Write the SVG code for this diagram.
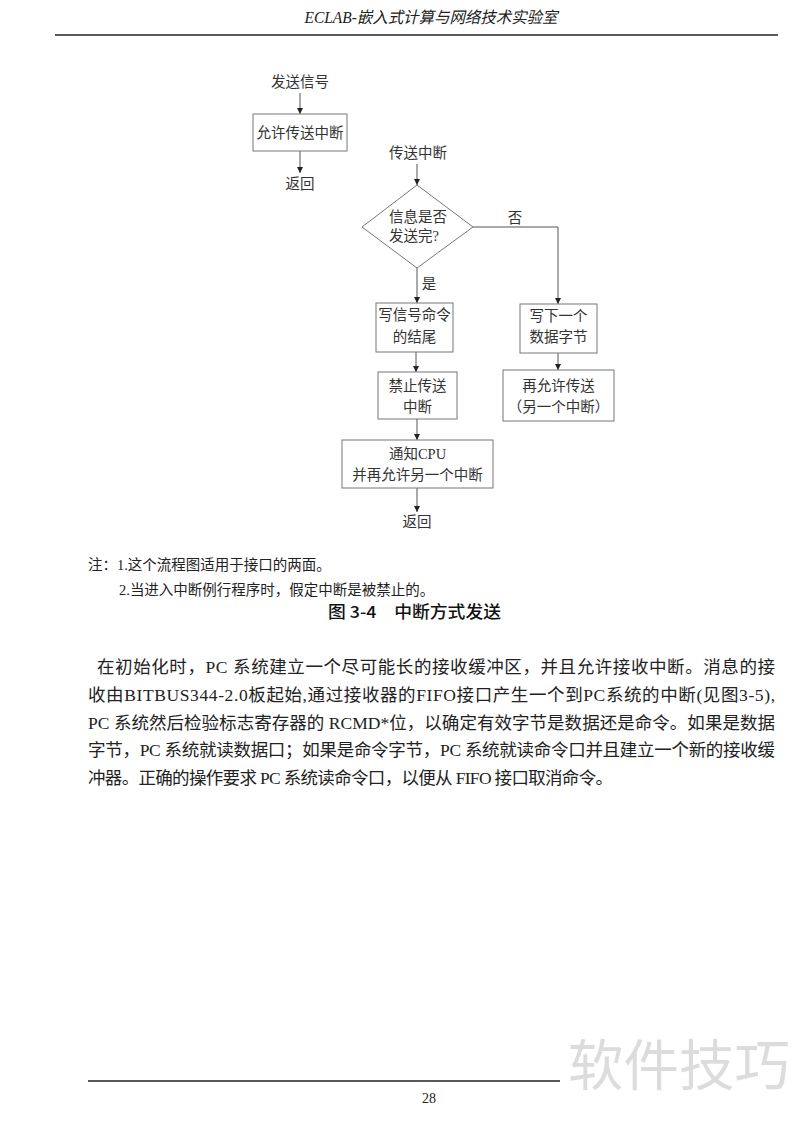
<svg xmlns="http://www.w3.org/2000/svg" width="800" height="1130" viewBox="0 0 800 1130">
<style>
.t{font-family:"Liberation Serif","Noto Sans CJK SC",serif;font-size:14.5px;fill:#333}
.c{text-anchor:middle}
.box{fill:#fff;stroke:#777;stroke-width:1}
.ln{fill:none;stroke:#555;stroke-width:1}
.p{font-family:"Liberation Serif","Noto Sans CJK SC",serif;font-size:17.5px;fill:#222}
.n{font-family:"Liberation Serif","Noto Sans CJK SC",serif;font-size:14.5px;fill:#222}
</style>
<defs>
<marker id="ar" viewBox="0 0 8 8" refX="8" refY="4" markerWidth="6" markerHeight="6" orient="auto" markerUnits="userSpaceOnUse">
<path d="M0,0 L8,4 L0,8 z" fill="#222"/>
</marker>
</defs>
<rect width="800" height="1130" fill="#fff"/>
<!-- header -->
<text x="431" y="23" text-anchor="middle" font-family="Liberation Serif,Noto Sans CJK SC,serif" font-style="italic" font-size="16" fill="#222" textLength="253" lengthAdjust="spacingAndGlyphs">ECLAB-嵌入式计算与网络技术实验室</text>
<line x1="55" y1="35" x2="778" y2="35" stroke="#222" stroke-width="1.5"/>

<!-- connectors -->
<g id="connectors" class="ln" marker-end="url(#ar)">
<line x1="300" y1="93" x2="300" y2="114"/>
<line x1="300" y1="151" x2="300" y2="173"/>
<line x1="417" y1="164" x2="417" y2="185"/>
<line x1="417" y1="268" x2="417" y2="303"/>
<polyline points="473,227 558,227 558,304"/>
<line x1="416" y1="352" x2="416" y2="372"/>
<line x1="558" y1="353" x2="558" y2="370"/>
<line x1="417" y1="419" x2="417" y2="440"/>
<line x1="417" y1="488" x2="417" y2="512"/>
</g>

<g id="n_send"><text class="t c" x="300" y="87">发送信号</text></g>
<g id="n_enable"><rect class="box" x="253" y="114" width="94" height="37"/><text class="t c" x="300" y="138">允许传送中断</text></g>
<g id="n_ret1"><text class="t c" x="300" y="189">返回</text></g>
<g id="n_int"><text class="t c" x="418" y="158">传送中断</text></g>
<g id="n_dec"><polygon class="box" points="417,185 473,227 417,268 362,227"/>
<text class="t" x="389" y="222">信息是否</text><text class="t" x="389" y="241">发送完?</text></g>
<g id="l_no"><text class="t c" x="515" y="223">否</text></g>
<g id="l_yes"><text class="t c" x="429" y="289">是</text></g>
<g id="n_end"><rect class="box" x="376" y="303" width="77" height="49"/>
<text class="t c" x="414.5" y="320">写信号命令</text><text class="t c" x="414.5" y="342">的结尾</text></g>
<g id="n_dis"><rect class="box" x="378" y="372" width="79" height="47"/>
<text class="t c" x="417.5" y="391">禁止传送</text><text class="t c" x="417.5" y="412">中断</text></g>
<g id="n_next"><rect class="box" x="520" y="304" width="77" height="49"/>
<text class="t c" x="558.5" y="321">写下一个</text><text class="t c" x="558.5" y="342">数据字节</text></g>
<g id="n_reen"><rect class="box" x="503" y="370" width="111" height="51"/>
<text class="t c" x="558.5" y="391">再允许传送</text><text class="t c" x="558.5" y="412">（另一个中断）</text></g>
<g id="n_cpu"><rect class="box" x="342" y="440" width="151" height="48"/>
<text class="t c" x="417.5" y="459">通知CPU</text><text class="t c" x="417.5" y="480">并再允许另一个中断</text></g>
<g id="n_ret2"><text class="t c" x="417" y="527">返回</text></g>

<!-- notes -->
<text class="n" x="88" y="570">注：1.这个流程图适用于接口的两面。</text>
<text class="n" x="119" y="595">2.当进入中断例行程序时，假定中断是被禁止的。</text>
<text x="328" y="618" font-family="Noto Sans CJK SC,sans-serif" font-weight="500" font-size="16.5" fill="#111" textLength="173" lengthAdjust="spacingAndGlyphs">图 3-4　中断方式发送</text>

<!-- paragraph -->
<text class="p" x="97" y="673" textLength="678" lengthAdjust="spacing">在初始化时，PC 系统建立一个尽可能长的接收缓冲区，并且允许接收中断。消息的接</text>
<text class="p" x="88" y="701" textLength="687" lengthAdjust="spacing">收由BITBUS344-2.0板起始,通过接收器的FIFO接口产生一个到PC系统的中断(见图3-5),</text>
<text class="p" x="88" y="729" textLength="687" lengthAdjust="spacing">PC 系统然后检验标志寄存器的 RCMD*位，以确定有效字节是数据还是命令。如果是数据</text>
<text class="p" x="88" y="756" textLength="687" lengthAdjust="spacing">字节，PC 系统就读数据口；如果是命令字节，PC 系统就读命令口并且建立一个新的接收缓</text>
<text class="p" x="88" y="784" textLength="525" lengthAdjust="spacing">冲器。正确的操作要求 PC 系统读命令口，以便从 FIFO 接口取消命令。</text>

<!-- footer -->
<line x1="88" y1="1081" x2="560" y2="1081" stroke="#222" stroke-width="1.5"/>
<text x="429" y="1103" text-anchor="middle" font-family="Liberation Serif,serif" font-size="14" fill="#222">28</text>
<text x="568" y="1085" font-family="Noto Sans CJK SC,sans-serif" font-size="55" fill="#dcdcdc" textLength="222" lengthAdjust="spacingAndGlyphs">软件技巧</text>
</svg>
